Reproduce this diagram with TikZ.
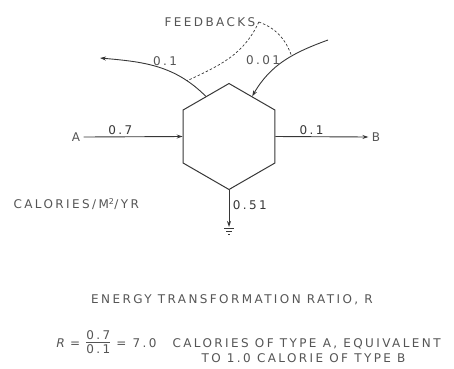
\documentclass[tikz,border=0pt]{standalone}
\usepackage{fontspec}
\usepackage{tikz}
\usetikzlibrary{arrows.meta, shapes.geometric}
\newfontfamily\lettering[LetterSpace=20]{DejaVu Sans}
\newfontfamily\letteringsl[LetterSpace=20,FakeSlant=0.2]{DejaVu Sans}
\definecolor{inkgray}{RGB}{55,55,55}
\definecolor{textgray}{RGB}{85,85,85}
\newcommand{\ratiofrac}[2]{\begin{tabular}{@{}c@{}}#1\\[-1pt]\hline\rule{0pt}{11pt}#2\end{tabular}}

\begin{document}
\begin{tikzpicture}[x=1pt, y=1pt, font=\fontsize{12}{13}\lettering, text=textgray,
  flow/.style={line width=0.9pt, inkgray},
  tip/.style={-{Stealth[length=6pt,width=4pt]}},
  fbline/.style={line width=0.7pt, inkgray, dash pattern=on 2.5pt off 2pt}]
  \useasboundingbox (0,0) rectangle (454,-368);

  % transformation unit
  \node[draw=inkgray, line width=1pt, regular polygon, regular polygon sides=6,
        shape border rotate=30, minimum size=106pt, inner sep=0pt] (hex) at (229,-136.5) {};

  % main flows
  \node (srcA) at (76,-137) {A};
  \node (sinkB) at (376,-137) {B};
  \draw[flow, tip] (srcA.east) -- node[above, pos=0.37, inner sep=2pt] {0.7} (hex.west);
  \draw[flow, tip] (hex.east) -- node[above, pos=0.39, inner sep=2pt] {0.1} (sinkB.west);

  % feedbacks
  \coordinate (fbL) at (100,-58);
  \coordinate (fbR) at (328,-40);
  \draw[flow, tip] (hex.120) to[out=135, in=-5] coordinate[pos=0.2] (tapL) (fbL);
  \draw[flow, tip] (fbR) to[out=200, in=60] coordinate[pos=0.4] (tapR) (hex.60);
  \node (qL) at (165,-61) {0.1};
  \node (qR) at (263,-60) {0.01};
  \node (fbk) at (210,-22) {FEEDBACKS};
  \draw[fbline] (fbk.east) to[out=-115, in=25] (tapL);
  \draw[fbline] (fbk.east) to[out=-20, in=110] (tapR);

  % heat sink
  \coordinate (gnd) at (229,-227);
  \draw[flow, tip] (hex.south) -- node[right, pos=0.4] {0.51} (gnd);
  \draw[flow] ([shift={(-5,-1)}]gnd) -- ([shift={(5,-1)}]gnd);
  \draw[flow] ([shift={(-3,-4)}]gnd) -- ([shift={(3,-4)}]gnd);
  \draw[flow] ([shift={(-1,-7)}]gnd) -- ([shift={(1,-7)}]gnd);

  \node[anchor=west] (units) at (10,-204) {CALORIES/M\textsuperscript{2}/YR};

  % ratio
  \node (ratio) at (232,-300) {ENERGY TRANSFORMATION RATIO, R};
  \node[anchor=west] (rdef) at (52,-344) {{\letteringsl R} = \ratiofrac{0.7}{0.1} = 7.0};
  \node[anchor=west] (rtxt) at (169,-344) {CALORIES OF TYPE A, EQUIVALENT};
  \node[anchor=west] (rtxt2) at (198,-358) {TO 1.0 CALORIE OF TYPE B};
\end{tikzpicture}
\end{document}
